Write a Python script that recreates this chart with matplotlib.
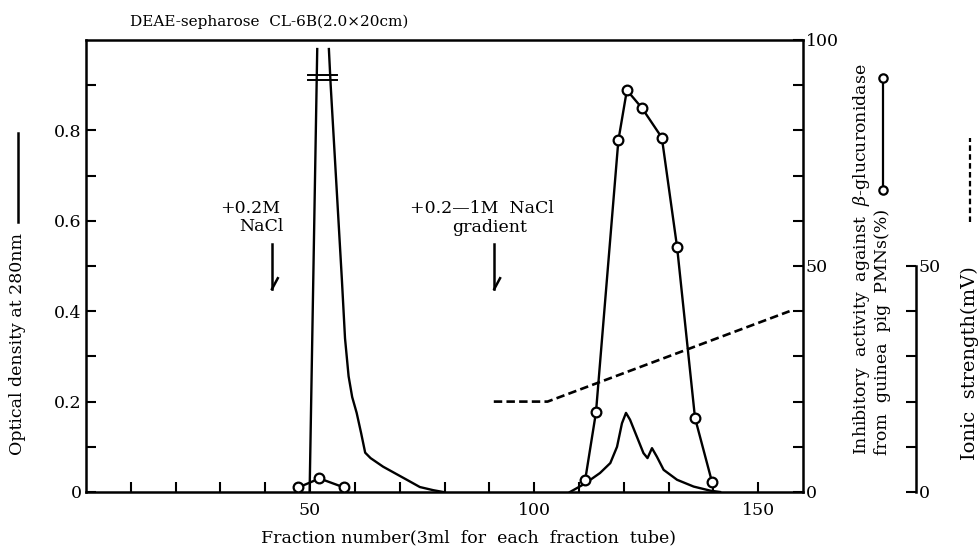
"""
DEAE-sepharose CL-6B elution profile: OD280, inhibitory activity and ionic strength.
"""

import numpy as np
import matplotlib
matplotlib.use("Agg")
import matplotlib.pyplot as plt
from matplotlib.lines import Line2D

plt.rcParams["font.family"] = "DejaVu Serif"
plt.rcParams["mathtext.fontset"] = "dejavuserif"

# optical density at 280 nm (first peak is off scale -> NaN splits the open top)
od_x1 = [49.9, 51.6, np.nan, 54.2, 54.6, 57.1, 57.8, 58.6, 59.4, 60.4, 61.4, 62.3,
         63.5, 66.3, 71.6, 74.5, 77.5, 79.7]
od_y1 = [0.0, 0.98, np.nan, 0.98, 0.90, 0.47, 0.34, 0.256, 0.21, 0.175, 0.13, 0.087,
         0.075, 0.056, 0.027, 0.011, 0.004, 0.0]
od_x2 = [108.0, 111.4, 114.7, 117.0, 118.5, 119.6, 120.5, 121.4, 122.9, 124.4, 125.3,
         126.3, 127.4, 128.9, 131.9, 135.6, 139.3, 141.5]
od_y2 = [0.0, 0.019, 0.042, 0.064, 0.10, 0.152, 0.175, 0.16, 0.123, 0.086, 0.075,
         0.097, 0.078, 0.049, 0.027, 0.012, 0.003, 0.0]

# inhibitory activity (%)
act_x1 = [47.4, 52.1, 57.6]
act_y1 = [1.0, 3.0, 1.0]
act_x2 = [111.4, 113.8, 118.8, 120.7, 124.1, 128.5, 131.9, 135.9, 139.7]
act_y2 = [2.7, 17.6, 77.8, 88.9, 84.9, 78.4, 54.2, 16.4, 2.2]

# ionic strength (mV)
ion_x = [91, 103, 157]
ion_y = [20, 20, 40]

# NaCl addition marks (fraction number)
add_x = [41.5, 91.1]

W, H = 980, 551
fig = plt.figure(figsize=(W / 100, H / 100), dpi=100)
L, R, T, B = 86, 803, 40, 492
ax = fig.add_axes([L / W, 1 - B / H, (R - L) / W, (B - T) / H])

LW = 1.7
for s in ax.spines.values():
    s.set_linewidth(1.8)

ax.plot(od_x1, od_y1, color="black", lw=LW)
ax.plot(od_x2, od_y2, color="black", lw=LW)
# break mark on the off-scale peak
for yb in (0.912, 0.923):
    ax.plot([49.5, 56.0], [yb, yb], color="black", lw=1.4)

ax.set_xlim(0, 160)
ax.set_ylim(0, 1.0)
ax.set_xticks(np.arange(10, 160, 10))
ax.set_xticklabels(["50" if v == 50 else "100" if v == 100 else "150" if v == 150 else ""
                    for v in np.arange(10, 160, 10)])
ax.set_yticks(np.arange(0, 1.0, 0.1))
ax.set_yticklabels(["0", "", "0.2", "", "0.4", "", "0.6", "", "0.8", ""])
ax.tick_params(axis="x", direction="in", length=7, width=1.5, pad=7, labelsize=12.5)
ax.tick_params(axis="y", direction="in", length=7, width=1.5, pad=3, labelsize=12.5)

# right axis: inhibitory activity
ax2 = ax.twinx()
ax2.set_ylim(0, 100)
for s in ax2.spines.values():
    s.set_visible(False)
ax2.plot(act_x1, act_y1, color="black", lw=LW, marker="o", ms=7, mfc="white",
         mec="black", mew=1.6)
ax2.plot(act_x2, act_y2, color="black", lw=LW, marker="o", ms=7, mfc="white",
         mec="black", mew=1.6)
ax2.set_yticks(np.arange(0, 101, 10))
ax2.set_yticklabels(["0", "", "", "", "", "50", "", "", "", "", "100"])
ax2.tick_params(axis="y", direction="in", length=7, width=1.5, pad=2, labelsize=12.5)

# third axis: ionic strength, spine only from 0 to 50
ax3 = ax.twinx()
ax3.set_ylim(0, 100)
for k, s in ax3.spines.items():
    s.set_visible(k == "right")
ax3.spines["right"].set_position(("axes", (916 - L) / (R - L)))
ax3.spines["right"].set_bounds(0, 50)
ax3.spines["right"].set_linewidth(1.8)
ax3.plot(ion_x, ion_y, color="black", lw=1.9, ls=(0, (3.2, 1.6)), clip_on=False)
ax3.set_yticks(np.arange(0, 51, 10))
ax3.set_yticklabels(["0", "", "", "", "", "50"])
ax3.tick_params(axis="y", direction="in", length=7, width=1.5, pad=2, labelsize=12.5)

# addition arrows (half-barbed)
for xa in add_x:
    ax.plot([xa, xa], [0.549, 0.449], color="black", lw=1.8)
    ax.plot([xa, xa + 1.3], [0.449, 0.473], color="black", lw=1.8)

ax.text(43.3, 0.627, "+0.2M", ha="right", va="center", fontsize=12.5)
ax.text(44.0, 0.587, "NaCl", ha="right", va="center", fontsize=12.5)
ax.text(88.4, 0.627, "+0.2—1M  NaCl", ha="center", va="center", fontsize=12.5)
ax.text(90.1, 0.585, "gradient", ha="center", va="center", fontsize=12.5)

fig.text(130 / W, 1 - 22 / H, "DEAE-sepharose  CL-6B(2.0×20cm)", ha="left",
         va="center", fontsize=11)
fig.text(468 / W, 1 - 538 / H, "Fraction number(3ml  for  each  fraction  tube)",
         ha="center", va="center", fontsize=12.5)

# left label with its legend line
fig.text(18 / W, 1 - 455 / H, "Optical density at 280nm", rotation=90,
         ha="center", va="bottom", fontsize=12.5)
fig.add_artist(Line2D([18 / W, 18 / W], [1 - 222 / H, 1 - 133 / H], color="black",
                      lw=1.8, transform=fig.transFigure))

# right label with circle legend
fig.text(861 / W, 1 - 455 / H, r"Inhibitory  activity  against  $\beta$-glucuronidase",
         rotation=90, ha="center", va="bottom", fontsize=12.5)
fig.text(882 / W, 1 - 455 / H, "from  guinea  pig  PMNs(%)", rotation=90,
         ha="center", va="bottom", fontsize=12.5)
fig.add_artist(Line2D([883 / W, 883 / W], [1 - 190 / H, 1 - 78 / H], color="black",
                      lw=1.6, marker="o", ms=6, mfc="white", mec="black", mew=1.6,
                      transform=fig.transFigure))

# ionic strength label with dashed legend
fig.text(970 / W, 1 - 460 / H, "Ionic  strength(mV)", rotation=90,
         ha="center", va="bottom", fontsize=14)
fig.add_artist(Line2D([970 / W, 970 / W], [1 - 222 / H, 1 - 138 / H], color="black",
                      lw=1.6, ls=(0, (2.5, 1.5)), transform=fig.transFigure))

fig.savefig("out.png", dpi=100)
